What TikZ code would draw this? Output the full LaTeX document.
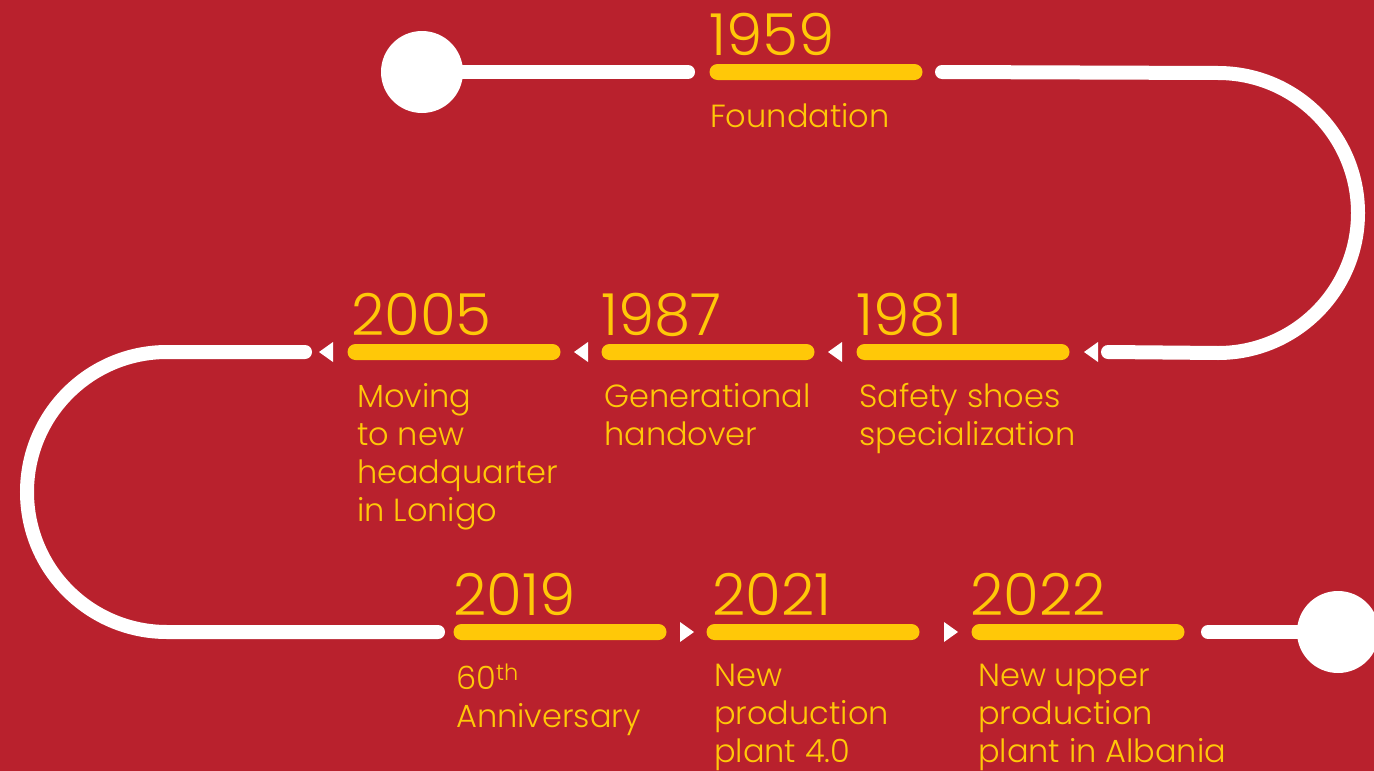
\documentclass[tikz,border=0pt]{standalone}
\usepackage{fontspec}
\setmainfont{Poppins}[UprightFont=* Light]
\definecolor{bgred}{RGB}{185,33,45}
\definecolor{gold}{RGB}{255,200,8}

\begin{document}
\begin{tikzpicture}[x=1pt,y=-1pt,
 bar/.style={shape=rectangle, fill=gold, minimum width=213pt, minimum height=16pt, inner sep=0pt, rounded corners=8pt},
 dot/.style={shape=circle, fill=white, minimum size=82pt, inner sep=0pt},
 track/.style={draw=white, line width=14pt, line cap=round},
 year/.style={anchor=base west, text=gold, inner sep=0pt, font=\fontsize{58}{58}\selectfont},
 what/.style={anchor=north west, text=gold, inner sep=0pt, align=left, font=\fontsize{32}{38}\selectfont, execute at begin node=\strut}]

 % background
 \fill[bgred] (0,0) rectangle (1374,771);
 \useasboundingbox (0,0) rectangle (1374,771);

 % start and end
 \node[dot] (start) at (422,72) {};
 \node[dot] (stop) at (1338,632) {};

 % yellow bars
 \node[bar] (b1959) at (816,72) {};
 \node[bar] (b1981) at (963,352) {};
 \node[bar] (b1987) at (708,352) {};
 \node[bar] (b2005) at (454,352) {};
 \node[bar] (b2019) at (560,632) {};
 \node[bar] (b2021) at (813,632) {};
 \node[bar] (b2022) at (1078,632) {};

 % the white track
 \coordinate (w1) at (688,72);
 \coordinate (w2) at (942,72);
 \coordinate (w3) at (1108,352);
 \coordinate (w4) at (305,352);
 \coordinate (w5) at (438,632);
 \coordinate (w6) at (1208,632);
 \draw[track] (start.center) -- (w1);
 \draw[track] (w2) -- (1218,73) arc[start angle=90, end angle=-90, radius=140pt] -- (w3);
 \draw[track] (w4) -- (167,352) arc[start angle=90, end angle=270, radius=140pt] -- (w5);
 \draw[track] (w6) -- (stop.center);

 % small triangles
 \foreach \x in {1098,842,588,333}
  \fill[white] (\x,342) -- (\x,362) -- (\x-14,352) -- cycle;
 \foreach \x in {680,944}
  \fill[white] (\x,622) -- (\x,642) -- (\x+14,632) -- cycle;

 % years
 \node[year] (y1959) at (709,55) {1959};
 \node[year] (y1981) at (856,335) {1981};
 \node[year] (y1987) at (601,335) {1987};
 \node[year] (y2005) at (351,335) {2005};
 \node[year] (y2019) at (453,615) {2019};
 \node[year] (y2021) at (712,615) {2021};
 \node[year] (y2022) at (970,615) {2022};

 % what happened (first baseline minus strut height)
 \node[what] (d1959) at (710,101) {Foundation};
 \node[what] (d1981) at (859,383) {Safety shoes\\specialization};
 \node[what] (d1987) at (604,383) {Generational\\handover};
 \node[what] (d2005) at (357,383) {Moving\\to new\\headquarter\\in Lonigo};
 \node[what] (d2019) at (456,664) {60\textsuperscript{th}\\Anniversary};
 \node[what] (d2021) at (714,664) {New\\production\\plant 4.0};
 \node[what] (d2022) at (978,664) {New upper\\production\\plant in Albania};
\end{tikzpicture}
\end{document}
